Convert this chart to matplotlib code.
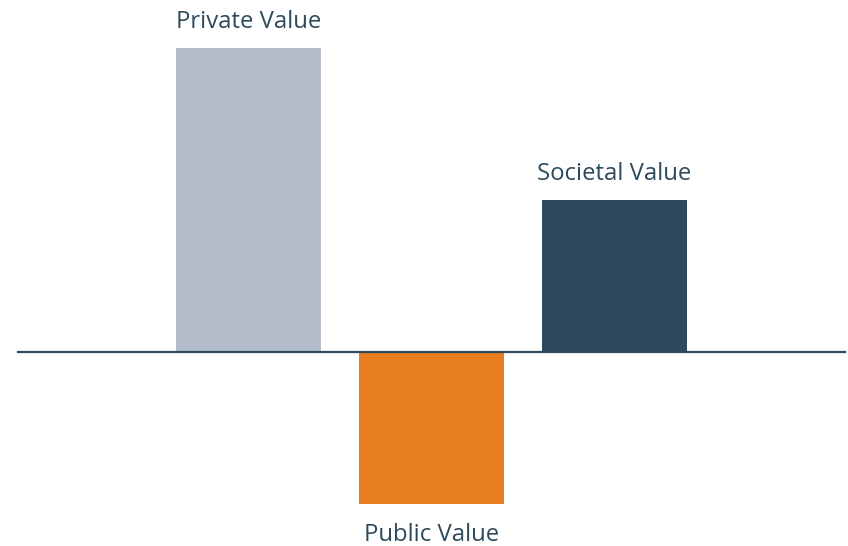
import numpy as np
import matplotlib.pyplot as plt

# data
categories = ["Private Value", "Public Value", "Societal Value"]
values = [100, -50, 50]
colors = ["#B3BECA", "#E87D20", "#2C4A5C"]

plt.rcParams['font.family'] = ['Open Sans', 'DejaVu Sans']

fig = plt.figure(figsize=(8.48, 5.46), dpi=100)
ax = fig.add_axes([0, 0, 1, 1])

x = np.arange(len(categories))
bars = ax.bar(x, values, width=0.79, color=colors, zorder=2)

# zero line
ax.axhline(0, xmin=0.021, xmax=0.9965, color="#2C4A5C", lw=1.6, zorder=3)

# labels above / below bars
for xi, v, name in zip(x, values, categories):
    if v >= 0:
        ax.annotate(name, (xi, v), xytext=(0, 19), textcoords="offset points",
                    ha="center", va="center", fontsize=17.2, color="#2C4A5C")
    else:
        ax.annotate(name, (xi, v), xytext=(0, -22), textcoords="offset points",
                    ha="center", va="center", fontsize=17.2, color="#2C4A5C")

ax.set_xlim(-1.358, 3.276)
ax.set_ylim(-63.8, 115.8)
ax.axis("off")

fig.savefig("out.png", dpi=100)
